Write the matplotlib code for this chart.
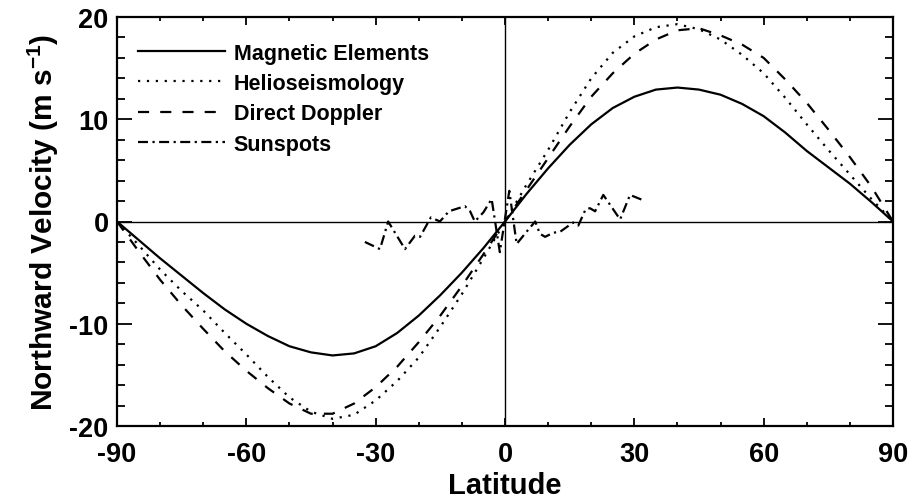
import matplotlib
matplotlib.use("Agg")
import matplotlib.pyplot as plt
from matplotlib.ticker import MultipleLocator

# ---------------- data ----------------
lat = [-90, -85, -80, -75, -70, -65, -60, -55, -50, -45, -40, -35, -30, -25, -20, -15, -10, -5,
       0, 5, 10, 15, 20, 25, 30, 35, 40, 45, 50, 55, 60, 65, 70, 75, 80, 85, 90]

magnetic = [0.0, -1.8, -3.6, -5.3, -7.0, -8.6, -10.0, -11.2, -12.2, -12.8, -13.1, -12.9, -12.2,
            -10.9, -9.2, -7.2, -5.0, -2.6, 0.0, 2.7, 5.2, 7.5, 9.5, 11.1, 12.2, 12.9, 13.1,
            12.9, 12.4, 11.5, 10.3, 8.7, 6.9, 5.3, 3.7, 1.9, 0.0]

helio = [0.0, -2.3, -4.7, -6.8, -8.7, -10.9, -13.0, -15.2, -17.2, -18.6, -19.3, -18.9, -17.5,
         -15.6, -13.3, -10.3, -7.1, -3.6, 0.0, 3.6, 7.0, 10.7, 14.0, 16.5, 18.1, 19.0, 19.3,
         18.8, 17.8, 16.3, 14.5, 12.1, 9.5, 7.0, 4.6, 2.2, 0.0]

doppler = [0.0, -2.9, -5.7, -8.2, -10.5, -12.7, -14.6, -16.3, -17.8, -18.8, -18.8, -17.8, -16.2,
           -14.2, -11.8, -9.2, -6.3, -3.2, 0.0, 3.1, 6.2, 9.3, 12.2, 14.5, 16.4, 17.8, 18.7,
           18.9, 18.2, 17.3, 16.0, 13.9, 11.6, 9.0, 6.3, 3.4, 0.0]

lat_ss = [-32.5, -29.0, -27.1, -23.2, -20.9, -19.7, -17.2, -15.1, -13.0, -9.3, -8.1, -7.0, -5.0,
          -3.1, -1.2, 1.0, 2.7, 5.0, 7.0, 8.1, 9.3, 11.2, 12.8, 15.8, 17.0, 18.7, 19.7, 20.9,
          22.8, 26.7, 29.0, 32.5]
sunspots = [-2.0, -2.7, 0.0, -2.7, -1.4, -1.5, 0.4, 0.0, 1.0, 1.5, 1.0, 0.0, 0.9,
            2.2, -3.0, 3.0, -2.2, -1.0, 0.0, -1.2, -1.5, -1.1, -1.0, -0.1, -0.4, 1.2, 1.3, 1.0,
            2.6, 0.2, 2.6, 2.0]

labels = ["Magnetic Elements", "Helioseismology", "Direct Doppler", "Sunspots"]
xticks = [-90, -60, -30, 0, 30, 60, 90]
yticks = [-20, -10, 0, 10, 20]

# ---------------- styling ----------------
plt.rcParams['font.family'] = ['Liberation Sans', 'DejaVu Sans']
plt.rcParams['font.weight'] = 'bold'
plt.rcParams['axes.unicode_minus'] = False
plt.rcParams['mathtext.fontset'] = 'custom'
plt.rcParams['mathtext.rm'] = 'Liberation Sans:bold'
plt.rcParams['mathtext.bf'] = 'Liberation Sans:bold'
plt.rcParams['mathtext.default'] = 'rm'

fig = plt.figure(figsize=(9.13, 5.02), dpi=100)
ax = fig.add_axes([117/913, 1 - 427/502, 776/913, 409/502])

lw = 1.6
ax.axhline(0, color='black', lw=1.0, zorder=1)
ax.axvline(0, color='black', lw=1.0, zorder=1)

ax.plot(lat, magnetic, color='black', lw=lw, linestyle='-', label=labels[0])
ax.plot(lat, helio, color='black', lw=lw, linestyle=(0, (1, 3)), label=labels[1])
ax.plot(lat, doppler, color='black', lw=lw, linestyle=(0, (5, 5)), label=labels[2])
ax.plot(lat_ss, sunspots, color='black', lw=lw, linestyle=(0, (4.5, 2, 1, 2)), label=labels[3])

ax.set_xlim(-90, 90)
ax.set_ylim(-20, 20)
ax.set_xticks(xticks)
ax.set_yticks(yticks)
ax.xaxis.set_minor_locator(MultipleLocator(10))
ax.yaxis.set_minor_locator(MultipleLocator(2))
ax.tick_params(axis='both', which='both', direction='in', top=True, right=True,
               width=1.3, colors='black')
ax.tick_params(axis='x', which='major', length=6, pad=11, labelsize=19.5)
ax.tick_params(axis='x', which='minor', length=3)
ax.tick_params(axis='y', which='major', length=11, pad=6, labelsize=19.5)
ax.tick_params(axis='y', which='minor', length=5.5)
for t in ax.get_xticklabels() + ax.get_yticklabels():
    t.set_fontweight('bold')
for s in ax.spines.values():
    s.set_linewidth(1.6)

ax.set_xlabel("Latitude", fontsize=21, fontweight='bold', labelpad=3)
ax.set_ylabel(r"Northward Velocity (m s$^{-1}$)", fontsize=21.5, fontweight='bold', labelpad=6)

leg = ax.legend(loc='upper left', bbox_to_anchor=(0.027, 0.937), frameon=False,
                fontsize=15.5, handlelength=4.05, handletextpad=0.4, labelspacing=0.43,
                borderpad=0, borderaxespad=0)
for t in leg.get_texts():
    t.set_fontweight('bold')

fig.savefig("out.png", dpi=100)
